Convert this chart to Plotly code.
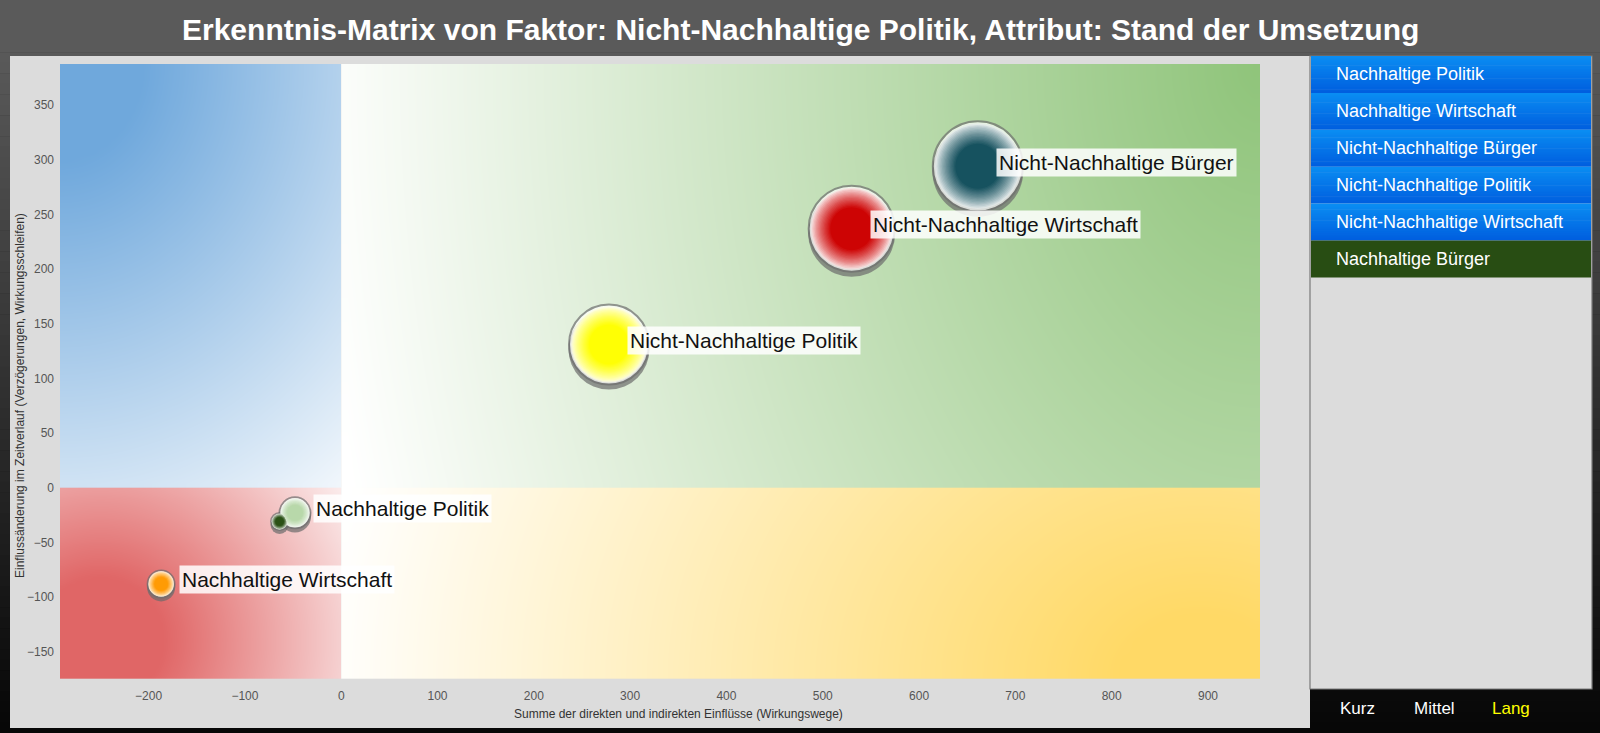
import numpy as np
import plotly.graph_objects as go

# ---------------- data ----------------
names = ["Nachhaltige Politik", "Nachhaltige Wirtschaft", "Nicht-Nachhaltige Bürger",
         "Nicht-Nachhaltige Politik", "Nicht-Nachhaltige Wirtschaft", "Nachhaltige Bürger"]
wirkungswege = [-48, -187, 661, 278, 530, -64]      # x: Summe der Einflüsse
zeitverlauf = [-23, -88, 294, 131, 237, -31]        # y: Einflussänderung
umsetzung = [31, 27, 90, 80, 86, 17]                # bubble size value
farben = ["#b6d7a8", "#ff9900", "#134f5c", "#ffff00", "#cc0000", "#274e13"]
beschriftet = [True, True, True, True, True, False]
legend_items = names
legend_selected = "Nachhaltige Bürger"
x_ticks = [-200, -100, 0, 100, 200, 300, 400, 500, 600, 700, 800, 900]
y_ticks = [-150, -100, -50, 0, 50, 100, 150, 200, 250, 300, 350]
zeitraum = ["Kurz", "Mittel", "Lang"]
zeitraum_aktiv = "Lang"
title = "Erkenntnis-Matrix von Faktor: Nicht-Nachhaltige Politik, Attribut: Stand der Umsetzung"
x_title = "Summe der direkten und indirekten Einflüsse (Wirkungswege)"
y_title = "Einflussänderung im Zeitverlauf (Verzögerungen, Wirkungsschleifen)"

# ---------------- geometry ----------------
W, H = 1600, 733
PL, PR, PT, PB = 60, 1260, 64, 679
XR = [-292, 954]
YR = [-175, 387.6]
FONT = "Liberation Sans, Arial, sans-serif"


def dx2px(x):
    return PL + (np.asarray(x) - XR[0]) / (XR[1] - XR[0]) * (PR - PL)


def dy2px(y):
    return PB - (np.asarray(y) - YR[0]) / (YR[1] - YR[0]) * (PB - PT)


def pxx(px):
    return (px - PL) / (PR - PL)


def pxy(py):
    return (PB - py) / (PB - PT)


def hex2rgb(h):
    h = h.lstrip("#")
    return tuple(int(h[i:i + 2], 16) for i in (0, 2, 4))


def mix(c1, c2, t):
    a, b = hex2rgb(c1), hex2rgb(c2)
    r = [round(a[i] + (b[i] - a[i]) * t) for i in range(3)]
    return "rgb(%d,%d,%d)" % tuple(r)


fig = go.Figure()

# ---------------- quadrant backgrounds ----------------
def quad(x0, x1, y0, y1, color, cx, cy, a, b, k, nx=70, ny=50):
    xe = np.linspace(x0, x1, nx + 1)
    ye = np.linspace(y0, y1, ny + 1)
    xc = (xe[:-1] + xe[1:]) / 2
    yc = (ye[:-1] + ye[1:]) / 2
    X, Y = np.meshgrid(dx2px(xc), dy2px(yc))
    d = np.sqrt(((X - cx) / a) ** 2 + ((Y - cy) / b) ** 2)
    z = np.clip((1 - d) * k, 0, 1)
    return go.Heatmap(x=xe, y=ye, z=z, zmin=0, zmax=1,
                      colorscale=[[0, "#ffffff"], [1, color]], showscale=False,
                      zsmooth="best", hoverinfo="skip")


fig.add_trace(quad(XR[0], 0, 0, YR[1], "#6fa8dc", 60, 64, 500, 580, 1.2))
fig.add_trace(quad(XR[0], 0, YR[0], 0, "#e06666", 100, 640, 320, 310, 1.25))
fig.add_trace(quad(0, XR[1], 0, YR[1], "#8fc47a", 1260, 64, 950, 1400, 1.0))
fig.add_trace(quad(0, XR[1], YR[0], 0, "#ffd966", 1200, 679, 880, 700, 1.1))

# ---------------- bubbles ----------------
px_per_y = (PB - PT) / (YR[1] - YR[0])
sizes = np.array(umsetzung, dtype=float)
shadow_y = [y - (3 + 0.02 * s) / px_per_y for y, s in zip(zeitverlauf, sizes)]

fig.add_trace(go.Scatter(x=wirkungswege, y=shadow_y, mode="markers", hoverinfo="skip",
                         marker=dict(size=sizes + 1, color="#6b6b6b", line=dict(width=0))))
fig.add_trace(go.Scatter(x=wirkungswege, y=zeitverlauf, mode="markers", hoverinfo="skip",
                         marker=dict(size=sizes, color="#ffffff",
                                     line=dict(width=2, color="#6e6e6e"))))
N = 16
for k in range(N):
    f = 0.95 - 0.45 * k / (N - 1)
    t = 0.12 + 0.88 * (k / (N - 1)) ** 0.75
    fig.add_trace(go.Scatter(x=wirkungswege, y=zeitverlauf, mode="markers", hoverinfo="skip",
                             marker=dict(size=sizes * f,
                                         color=[mix("#ffffff", c, t) for c in farben],
                                         line=dict(width=0))))

# ---------------- shapes (page chrome) ----------------
shapes = []
nstripe = 70
for i in range(nstripe):
    y0 = H * i / nstripe
    y1 = H * (i + 1) / nstripe + 0.5
    ym = (y0 + y1) / 2
    v = 90 if ym < 50 else 90 - 84 * (ym - 50) / (H - 50)
    v = int(round(v))
    shapes.append(dict(type="rect", xref="paper", yref="paper", layer="below",
                       x0=pxx(0), x1=pxx(W), y0=pxy(y1), y1=pxy(y0),
                       fillcolor="rgb(%d,%d,%d)" % (v, v, v), line=dict(width=0)))
# main panel
shapes.append(dict(type="rect", xref="paper", yref="paper", layer="below",
                   x0=pxx(10), x1=pxx(1310), y0=pxy(728), y1=pxy(56),
                   fillcolor="#dcdcdc", line=dict(width=0)))
# legend panel
shapes.append(dict(type="rect", xref="paper", yref="paper", layer="below",
                   x0=pxx(1310), x1=pxx(1592), y0=pxy(689), y1=pxy(56),
                   fillcolor="#dcdcdc", line=dict(width=1.2, color="#7a7a7a")))
ITEM_H = 36.9
annotations = []
for i, name in enumerate(legend_items):
    top = 56 + ITEM_H * i
    if name == legend_selected:
        shapes.append(dict(type="rect", xref="paper", yref="paper", layer="above",
                           x0=pxx(1311), x1=pxx(1591), y0=pxy(top + ITEM_H), y1=pxy(top),
                           fillcolor="#284d13", line=dict(width=0)))
    else:
        ns = 20
        for j in range(ns):
            s0 = top + ITEM_H * j / ns
            s1 = top + ITEM_H * (j + 1) / ns + 0.6
            shapes.append(dict(type="rect", xref="paper", yref="paper", layer="above",
                               x0=pxx(1311), x1=pxx(1591), y0=pxy(min(s1, top + ITEM_H)),
                               y1=pxy(s0),
                               fillcolor=mix("#0a8cf2", "#005fdf", j / (ns - 1)),
                               line=dict(width=0)))
    annotations.append(dict(xref="paper", yref="paper", x=pxx(1334), y=pxy(top + ITEM_H / 2),
                            text=name, showarrow=False, xanchor="left", yanchor="middle",
                            font=dict(family=FONT, size=18, color="#ffffff")))

# period buttons
for name, cx in zip(zeitraum, [1357, 1434, 1511]):
    annotations.append(dict(xref="paper", yref="paper", x=pxx(cx), y=pxy(708),
                            text=name, showarrow=False, xanchor="center", yanchor="middle",
                            font=dict(family=FONT, size=17,
                                      color="#ffff00" if name == zeitraum_aktiv else "#ffffff")))

# title
annotations.append(dict(xref="paper", yref="paper", x=pxx(800), y=pxy(29), text=title,
                        showarrow=False, xanchor="center", yanchor="middle",
                        font=dict(family=FONT, size=30, color="#ffffff", weight="bold")))
# axis titles
annotations.append(dict(xref="paper", yref="paper", x=pxx(512), y=pxy(714), text=x_title,
                        showarrow=False, xanchor="left", yanchor="middle",
                        font=dict(family=FONT, size=12, color="#333333")))
annotations.append(dict(xref="paper", yref="paper", x=pxx(20), y=pxy(396), text=y_title,
                        showarrow=False, xanchor="center", yanchor="middle", textangle=-90,
                        font=dict(family=FONT, size=12, color="#333333")))

# bubble labels
for name, xv, yv, lab in zip(names, wirkungswege, zeitverlauf, beschriftet):
    if lab:
        annotations.append(dict(xref="x", yref="y", x=xv, y=yv, text=name, showarrow=False,
                                xanchor="left", yanchor="middle", xshift=18, yshift=4,
                                bgcolor="rgba(255,255,255,0.85)", borderpad=2,
                                font=dict(family=FONT, size=21, color="#111111")))

fig.update_layout(
    width=W, height=H, autosize=False,
    margin=dict(l=PL, r=W - PR, t=PT, b=H - PB, pad=0),
    paper_bgcolor="#050505", plot_bgcolor="rgba(0,0,0,0)",
    showlegend=False, shapes=shapes, annotations=annotations,
    xaxis=dict(range=XR, tickvals=x_ticks, showgrid=False, zeroline=False, showline=False,
               ticks="", ticklabelstandoff=8, fixedrange=True,
               tickfont=dict(family=FONT, size=12, color="#555555")),
    yaxis=dict(range=YR, tickvals=y_ticks, showgrid=False, zeroline=False, showline=False,
               ticks="", ticklabelstandoff=5, fixedrange=True,
               tickfont=dict(family=FONT, size=12, color="#555555")),
)

fig.write_html("out.html")
